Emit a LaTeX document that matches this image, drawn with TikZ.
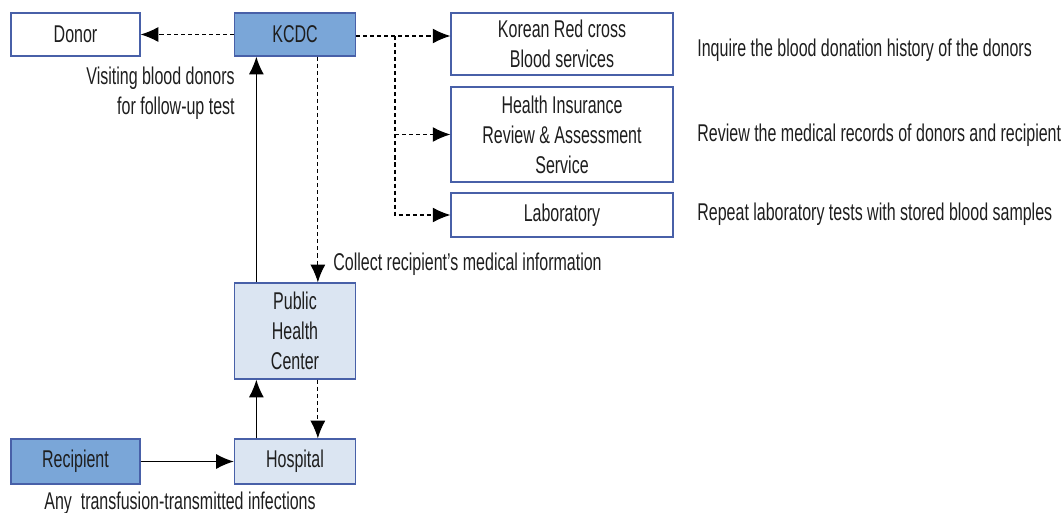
\documentclass[tikz,border=0pt]{standalone}
\usepackage{fontspec}
\setmainfont{Liberation Sans}[FakeStretch=0.66]
\usepackage{tikz}
\usetikzlibrary{arrows.meta}
\usetikzlibrary{positioning}
\usetikzlibrary{calc}
\definecolor{myblue}{RGB}{122,166,216}
\definecolor{mylight}{RGB}{219,229,242}
\definecolor{myline}{RGB}{72,96,168}
\definecolor{mytext}{RGB}{30,30,30}

\begin{document}
\begin{tikzpicture}[x=0.02cm, y=-0.02cm, >={Latex[length=10pt,width=8.5pt]},
font=\fontsize{13.8}{17}\selectfont, text=mytext,
mybox/.style={
  rectangle,
  draw=myline,
  line width=0.8pt,
  fill=white,
  align=center,
  inner sep=0pt},
mydark/.style={mybox, fill=myblue},
mylight/.style={mybox, fill=mylight},
mynote/.style={align=left, inner sep=0pt},
myflow/.style={->, line width=0.75pt, black},
mylink/.style={->, line width=0.6pt, black, dash pattern=on 2.3pt off 1.7pt}
]
\useasboundingbox (0,0) rectangle (1064,513);

\node[mybox, minimum width=2.58cm, minimum height=0.86cm] (donor) at (75.5,34.5) {Donor};
\node[mydark, minimum width=2.42cm, minimum height=0.86cm] (kcdc) at (295,34.5) {KCDC};
\node[mybox, minimum width=4.44cm, minimum height=1.24cm] (krc) at (562,44) {Korean Red cross\\Blood services};
\node[mybox, minimum width=4.44cm, minimum height=1.90cm] (hira) at (562,134.5) {Health Insurance\\Review \& Assessment\\Service};
\node[mybox, minimum width=4.44cm, minimum height=0.88cm] (lab) at (562,215) {Laboratory};
\node[mylight, minimum width=2.42cm, minimum height=1.92cm] (phc) at (295,331) {Public\\Health\\Center};
\node[mylight, minimum width=2.42cm, minimum height=0.90cm] (hosp) at (295,461.5) {Hospital};
\node[mydark, minimum width=2.58cm, minimum height=0.90cm] (recip) at (75.5,461.5) {Recipient};

\node[mynote, anchor=west] (inquire) at (697,50) {Inquire the blood donation history of the donors};
\node[mynote, anchor=west] (review) at (697,135) {Review the medical records of donors and recipient};
\node[mynote, anchor=west] (repeat) at (697,214) {Repeat laboratory tests with stored blood samples};
\node[mynote, align=right, anchor=east] (visit) at (235,93) {Visiting blood donors\\for follow-up test};
\node[mynote, anchor=west] (collect) at (333,264) {Collect recipient’s medical information};
\node[mynote, anchor=center] (tti) at (180,503) {Any\ \ transfusion-transmitted infections};

\coordinate (branch) at (395,36);

\draw[mylink] (kcdc.west) -- (donor.east);
\draw[mylink] (kcdc.east |- branch) -- (krc.west |- branch);
\draw[mylink] (branch) |- (lab.west);
\draw[mylink] (branch |- hira.west) -- (hira.west);
\draw[mylink] ([xshift=13]kcdc.south) -- ([xshift=13]phc.north);
\draw[myflow] ([xshift=-22]phc.north) -- ([xshift=-22]kcdc.south);
\draw[mylink] ([xshift=13]phc.south) -- ([xshift=13]hosp.north);
\draw[myflow] ([xshift=-22]hosp.north) -- ([xshift=-22]phc.south);
\draw[myflow] (recip.east) -- (hosp.west);
\end{tikzpicture}
\end{document}
